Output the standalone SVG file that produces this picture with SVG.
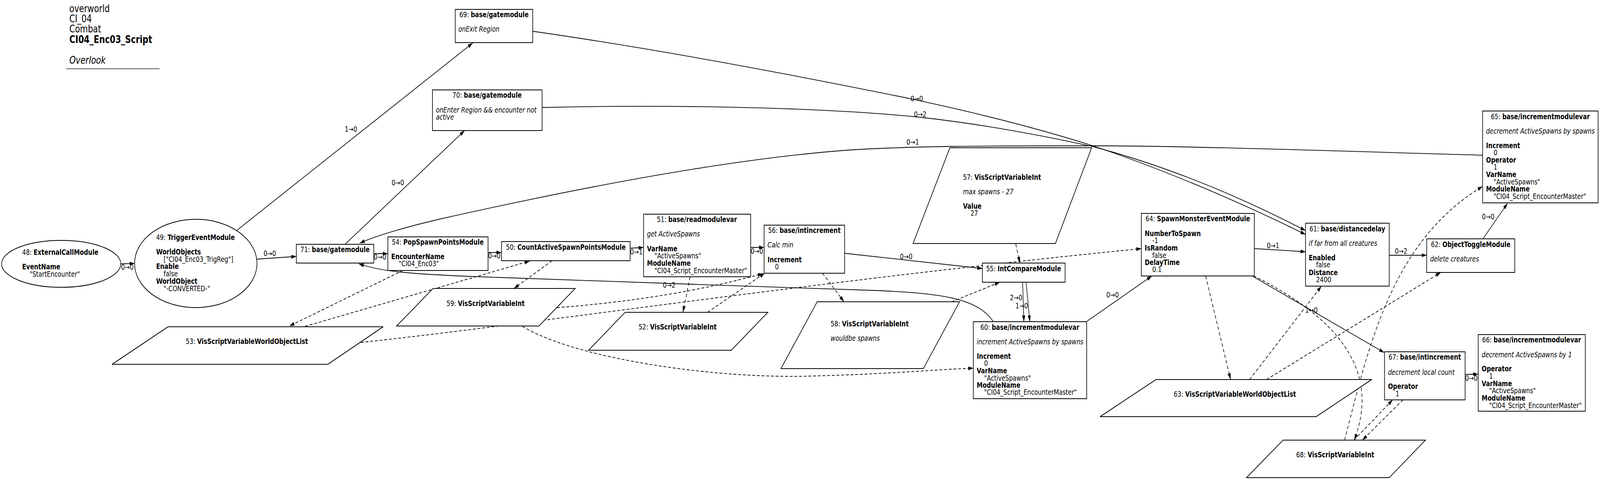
<svg xmlns="http://www.w3.org/2000/svg" width="5124" height="1228" viewBox="0 0 5124 1228" preserveAspectRatio="none">
<style>
svg:root { width: 100vw; height: 100vh; }
text { font-family: "DejaVu Sans", "Liberation Sans", sans-serif; font-size: 19px; fill: #000; }
.ttl { font-size: 26px; }
.b { font-weight: bold; }
.i { font-style: italic; }
.c { text-anchor: middle; }
.n { fill: #fff; stroke: #000; stroke-width: 2; }
.e { fill: none; stroke: #000; stroke-width: 1.8; marker-end: url(#arr); }
.d { stroke-dasharray: 9,6; }
</style>
<defs>
<marker id="arr" markerUnits="userSpaceOnUse" markerWidth="18" markerHeight="12" refX="16" refY="5" orient="auto">
<path d="M0,0 L16,5 L0,10 z" fill="#000"/>
</marker>
</defs>
<rect width="5124" height="1228" fill="#fff"/>
<g id="title">
<text class="ttl" x="222" y="31">overworld</text>
<text class="ttl" x="222" y="57">CI_04</text>
<text class="ttl" x="222" y="83">Combat</text>
<text class="ttl b" x="222" y="110">CI04_Enc03_Script</text>
<text class="ttl i" x="222" y="163">Overlook</text>
<line x1="212" y1="176" x2="511" y2="176" stroke="#555" stroke-width="2"/>
</g>
<g id="connectors">
<path class="e" d="M387,675 L431,674"/>
<path class="e" d="M823,663 L949,656"/>
<path class="e" d="M759,589 L1514,110"/>
<path class="e" d="M1105,625 L1488,334"/>
<path class="e" d="M1197,649 L1242,649"/>
<path class="e" d="M1563,646 L1606,646"/>
<path class="e" d="M2018,635 L2061,633"/>
<path class="e" d="M2404,633 L2447,633"/>
<path class="e" d="M2705,648 L3146,687"/>
<path class="e" d="M3275,722 L3279,823"/>
<path class="e" d="M3286,722 L3298,823"/>
<path class="e" d="M3479,823 L3689,706"/>
<path class="e" d="M3181,823 C3130,760 3000,750 2800,743 C2400,731 1800,718 1500,707 C1300,700 1220,694 1149,675"/>
<path class="e" d="M4017,636 L4181,644"/>
<path class="e" d="M4012,707 L4433,902"/>
<path class="e" d="M1706,80 C2100,125 2500,185 2900,250 C3150,292 3350,335 3500,373 C3750,440 4000,528 4181,600"/>
<path class="e" d="M1736,275 C2100,268 2600,272 2947,300 C3150,318 3330,345 3500,375 C3760,430 4000,515 4181,590"/>
<path class="e" d="M4748,397 C4300,387 3800,373 3500,373 C3200,373 2900,373 2700,385 C2300,410 1800,490 1400,562 C1280,585 1200,605 1152,622"/>
<path class="e" d="M4449,653 L4569,653"/>
<path class="e" d="M4749,611 L4828,520"/>
<path class="e" d="M4692,958 L4734,957"/>
<path class="e d" d="M1290,692 L927,834"/>
<path class="e d" d="M977,835 L1696,668"/>
<path class="e d" d="M1768,667 L1646,738"/>
<path class="e d" d="M2210,708 L2187,799"/>
<path class="e d" d="M2266,799 L2449,699"/>
<path class="e d" d="M1784,787 Q2150,765 2443,700"/>
<path class="e d" d="M1156,876 C1700,830 2600,720 3655,636"/>
<path class="e d" d="M1673,835 C1850,920 2300,970 2600,962 C2850,957 3000,945 3117,942"/>
<path class="e d" d="M2634,699 L2703,772"/>
<path class="e d" d="M3048,772 L3202,722"/>
<path class="e d" d="M3253,624 L3266,673"/>
<path class="e d" d="M3861,706 L3941,971"/>
<path class="e d" d="M4002,971 L4232,732"/>
<path class="e d" d="M4056,971 L4614,697"/>
<path class="e d" d="M4015,706 C4250,800 4430,930 4337,1126"/>
<path class="e d" d="M4306,1126 C4380,900 4450,620 4748,477"/>
<path class="e d" d="M4493,1023 L4363,1126"/>
<path class="e d" d="M4336,1126 L4460,1023"/>
<text class="c" x="408" y="690">0→0</text>
<text class="c" x="864" y="655">0→0</text>
<text class="c" x="1124" y="337">1→0</text>
<text class="c" x="1274" y="474">0→0</text>
<text class="c" x="1217" y="664">0→0</text>
<text class="c" x="1583" y="661">0→0</text>
<text class="c" x="2038" y="651">0→1</text>
<text class="c" x="2424" y="649">0→0</text>
<text class="c" x="2902" y="663">0→0</text>
<text class="c" x="3254" y="768">2→0</text>
<text class="c" x="3272" y="789">1→0</text>
<text class="c" x="3563" y="761">0→0</text>
<text class="c" x="2143" y="736">0→2</text>
<text class="c" x="4077" y="635">0→1</text>
<text class="c" x="4200" y="800">1→0</text>
<text class="c" x="2936" y="259">0→0</text>
<text class="c" x="2947" y="299">0→2</text>
<text class="c" x="2923" y="370">0→1</text>
<text class="c" x="4487" y="649">0→2</text>
<text class="c" x="4766" y="561">0→0</text>
<text class="c" x="4712" y="974">0→0</text>
</g>
<g id="node48">
<ellipse class="n" cx="196" cy="675" rx="191" ry="60"/>
<text x="71" y="652">48: <tspan class="b">ExternalCallModule</tspan></text>
<text class="b" x="71" y="689">EventName</text>
<text x="95" y="708">"StartEncounter"</text>
</g>
<g id="node49">
<ellipse class="n" cx="627" cy="674" rx="196" ry="113"/>
<text x="500" y="614">49: <tspan class="b">TriggerEventModule</tspan></text>
<text class="b" x="500" y="651">WorldObjects</text>
<text x="524" y="670">["CI04_Enc03_TrigReg"]</text>
<text class="b" x="500" y="688">Enable</text>
<text x="524" y="707">false</text>
<text class="b" x="500" y="726">WorldObject</text>
<text x="524" y="745">"-CONVERTED-"</text>
</g>
<g id="node71">
<rect class="n" x="949" y="625" width="248" height="48"/>
<text class="c" x="1073" y="645">71: <tspan class="b">base/gatemodule</tspan></text>
</g>
<g id="node54">
<rect class="n" x="1242" y="606" width="321" height="86"/>
<text class="c" x="1402" y="626">54: <tspan class="b">PopSpawnPointsModule</tspan></text>
<text class="b" x="1253" y="663">EncounterName</text>
<text x="1277" y="681">"CI04_Enc03"</text>
</g>
<g id="node50">
<rect class="n" x="1606" y="618" width="412" height="49"/>
<text class="c" x="1812" y="639">50: <tspan class="b">CountActiveSpawnPointsModule</tspan></text>
</g>
<g id="node51">
<rect class="n" x="2061" y="548" width="343" height="160"/>
<text class="c" x="2232" y="568">51: <tspan class="b">base/readmodulevar</tspan></text>
<text class="i" x="2072" y="605">get ActiveSpawns</text>
<text class="b" x="2072" y="643">VarName</text>
<text x="2096" y="661">"ActiveSpawns"</text>
<text class="b" x="2072" y="680">ModuleName</text>
<text x="2096" y="699">"CI04_Script_EncounterMaster"</text>
</g>
<g id="node56">
<rect class="n" x="2447" y="576" width="258" height="123"/>
<text class="c" x="2576" y="596">56: <tspan class="b">base/intincrement</tspan></text>
<text class="i" x="2458" y="633">Calc min</text>
<text class="b" x="2458" y="671">Increment</text>
<text x="2482" y="689">0</text>
</g>
<g id="node55">
<rect class="n" x="3146" y="673" width="265" height="49"/>
<text class="c" x="3278" y="694">55: <tspan class="b">IntCompareModule</tspan></text>
</g>
<g id="node57">
<polygon class="n" points="3042,378 3496,378 3380,623 2924,623"/>
<text x="3084" y="460">57: <tspan class="b">VisScriptVariableInt</tspan></text>
<text class="i" x="3084" y="497">max spawns - 27</text>
<text class="b" x="3084" y="534">Value</text>
<text x="3108" y="552">27</text>
</g>
<g id="node58">
<polygon class="n" points="2617,772 3073,772 2957,943 2501,943"/>
<text x="2660" y="835">58: <tspan class="b">VisScriptVariableInt</tspan></text>
<text class="i" x="2660" y="872">wouldbe spawns</text>
</g>
<g id="node52">
<polygon class="n" points="2002,799 2459,799 2342,896 1885,896"/>
<text x="2045" y="843">52: <tspan class="b">VisScriptVariableInt</tspan></text>
</g>
<g id="node59">
<polygon class="n" points="1387,738 1842,738 1726,834 1270,834"/>
<text x="1430" y="783">59: <tspan class="b">VisScriptVariableInt</tspan></text>
</g>
<g id="node53">
<polygon class="n" points="538,836 1227,836 1050,932 359,932"/>
<text x="595" y="880">53: <tspan class="b">VisScriptVariableWorldObjectList</tspan></text>
</g>
<g id="node60">
<rect class="n" x="3117" y="823" width="363" height="197"/>
<text class="c" x="3298" y="844">60: <tspan class="b">base/incrementmodulevar</tspan></text>
<text class="i" x="3128" y="881">increment ActiveSpawns by spawns</text>
<text class="b" x="3128" y="918">Increment</text>
<text x="3152" y="936">0</text>
<text class="b" x="3128" y="955">VarName</text>
<text x="3152" y="974">"ActiveSpawns"</text>
<text class="b" x="3128" y="992">ModuleName</text>
<text x="3152" y="1010">"CI04_Script_EncounterMaster"</text>
</g>
<g id="node64">
<rect class="n" x="3655" y="546" width="362" height="160"/>
<text class="c" x="3836" y="566">64: <tspan class="b">SpawnMonsterEventModule</tspan></text>
<text class="b" x="3666" y="604">NumberToSpawn</text>
<text x="3690" y="622">-1</text>
<text class="b" x="3666" y="641">IsRandom</text>
<text x="3690" y="660">false</text>
<text class="b" x="3666" y="678">DelayTime</text>
<text x="3690" y="696">0.1</text>
</g>
<g id="node61">
<rect class="n" x="4181" y="571" width="268" height="161"/>
<text class="c" x="4315" y="592">61: <tspan class="b">base/distancedelay</tspan></text>
<text class="i" x="4191" y="629">if far from all creatures</text>
<text class="b" x="4191" y="666">Enabled</text>
<text x="4215" y="684">false</text>
<text class="b" x="4191" y="704">Distance</text>
<text x="4215" y="722">2400</text>
</g>
<g id="node62">
<rect class="n" x="4569" y="611" width="282" height="86"/>
<text class="c" x="4710" y="632">62: <tspan class="b">ObjectToggleModule</tspan></text>
<text class="i" x="4580" y="669">delete creatures</text>
</g>
<g id="node63">
<polygon class="n" points="3702,971 4393,971 4215,1066 3523,1066"/>
<text x="3759" y="1015">63: <tspan class="b">VisScriptVariableWorldObjectList</tspan></text>
</g>
<g id="node65">
<rect class="n" x="4748" y="284" width="370" height="235"/>
<text class="c" x="4933" y="305">65: <tspan class="b">base/incrementmodulevar</tspan></text>
<text class="i" x="4759" y="342">decrement ActiveSpawns by spawns</text>
<text class="b" x="4759" y="379">Increment</text>
<text x="4783" y="397">0</text>
<text class="b" x="4759" y="416">Operator</text>
<text x="4783" y="434">1</text>
<text class="b" x="4759" y="453">VarName</text>
<text x="4783" y="472">"ActiveSpawns"</text>
<text class="b" x="4759" y="490">ModuleName</text>
<text x="4783" y="509">"CI04_Script_EncounterMaster"</text>
</g>
<g id="node66">
<rect class="n" x="4734" y="856" width="343" height="196"/>
<text class="c" x="4905" y="876">66: <tspan class="b">base/incrementmodulevar</tspan></text>
<text class="i" x="4745" y="914">decrement ActiveSpawns by 1</text>
<text class="b" x="4745" y="950">Operator</text>
<text x="4769" y="969">1</text>
<text class="b" x="4745" y="988">VarName</text>
<text x="4769" y="1006">"ActiveSpawns"</text>
<text class="b" x="4745" y="1025">ModuleName</text>
<text x="4769" y="1044">"CI04_Script_EncounterMaster"</text>
</g>
<g id="node67">
<rect class="n" x="4434" y="900" width="258" height="123"/>
<text class="c" x="4563" y="920">67: <tspan class="b">base/intincrement</tspan></text>
<text class="i" x="4445" y="959">decrement local count</text>
<text class="b" x="4445" y="995">Operator</text>
<text x="4469" y="1014">1</text>
</g>
<g id="node68">
<polygon class="n" points="4109,1126 4565,1126 4449,1222 3992,1222"/>
<text x="4151" y="1170">68: <tspan class="b">VisScriptVariableInt</tspan></text>
</g>
<g id="node69">
<rect class="n" x="1458" y="24" width="248" height="85"/>
<text class="c" x="1582" y="44">69: <tspan class="b">base/gatemodule</tspan></text>
<text class="i" x="1468" y="81">onExit Region</text>
</g>
<g id="node70">
<rect class="n" x="1385" y="230" width="351" height="104"/>
<text class="c" x="1560" y="250">70: <tspan class="b">base/gatemodule</tspan></text>
<text class="i" x="1396" y="288">onEnter Region &amp;&amp; encounter not</text>
<text class="i" x="1396" y="306">active</text>
</g>
</svg>
